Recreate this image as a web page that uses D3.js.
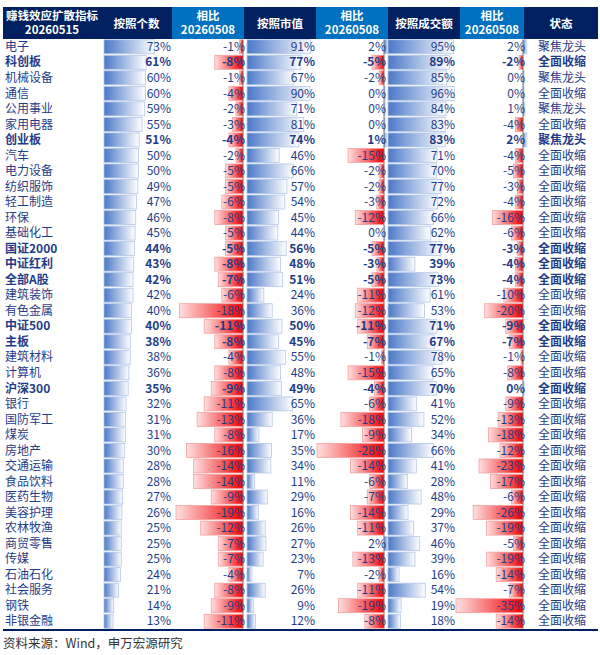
<!DOCTYPE html><html><head><meta charset="utf-8"><script src="https://cdn.jsdelivr.net/npm/d3@7"></script>
<style>body{margin:0;background:#fff}</style></head><body><svg id="c" width="600" height="655"></svg>
<script>
const names=["电子","科创板","机械设备","通信","公用事业","家用电器","创业板","汽车","电力设备","纺织服饰","轻工制造","环保","基础化工","国证2000","中证红利","全部A股","建筑装饰","有色金属","中证500","主板","建筑材料","计算机","沪深300","银行","国防军工","煤炭","房地产","交通运输","食品饮料","医药生物","美容护理","农林牧渔","商贸零售","传媒","石油石化","社会服务","钢铁","非银金融"];
const boldRows=["科创板","创业板","国证2000","中证红利","全部A股","中证500","主板","沪深300"];
const countPct=[73,61,60,60,59,55,51,50,50,49,47,46,45,44,43,42,42,40,40,38,38,36,35,32,31,31,30,28,28,27,26,25,25,25,24,21,14,13];
const countChg=[-1,-8,-1,-4,-2,-3,-4,-2,-5,-5,-6,-8,-5,-5,-8,-7,-6,-18,-11,-8,-4,-8,-9,-11,-13,-8,-16,-14,-14,-9,-19,-12,-7,-7,-4,-8,-9,-11];
const capPct=[91,77,67,90,71,81,74,46,66,57,54,45,44,56,48,51,24,36,50,45,55,48,49,65,36,17,35,34,11,29,16,26,27,23,7,26,9,12];
const capChg=[2,-5,-2,0,0,0,1,-15,-2,-2,-3,-12,0,-5,-3,-5,-11,-12,-11,-7,-1,-15,-4,-6,-18,-9,-28,-14,-6,-7,-14,-11,2,-13,-2,-11,-19,-8];
const volPct=[95,89,85,96,84,83,83,71,70,77,72,66,62,77,39,73,61,53,71,67,78,65,70,41,52,34,66,41,28,48,29,37,46,39,16,54,19,18];
const volChg=[2,-2,0,0,1,-4,2,-4,-5,-3,-4,-16,-6,-3,-4,-4,-10,-20,-9,-7,-1,-8,0,-9,-13,-18,-12,-23,-17,-6,-26,-19,-5,-19,-14,-7,-35,-14];
const status=["聚焦龙头","全面收缩","聚焦龙头","全面收缩","聚焦龙头","全面收缩","聚焦龙头","全面收缩","全面收缩","全面收缩","全面收缩","全面收缩","全面收缩","全面收缩","全面收缩","全面收缩","全面收缩","全面收缩","全面收缩","全面收缩","全面收缩","全面收缩","全面收缩","全面收缩","全面收缩","全面收缩","全面收缩","全面收缩","全面收缩","全面收缩","全面收缩","全面收缩","全面收缩","全面收缩","全面收缩","全面收缩","全面收缩","全面收缩"];
const headers=[["赚钱效应扩散指标","20260515"],["按照个数"],["相比","20260508"],["按照市值"],["相比","20260508"],["按照成交额"],["相比","20260508"],["状态"]];

const svg=d3.select("#c");
const F="'Noto Sans CJK SC','Noto Sans',sans-serif";
const navy="#002060",blue="#0070c0",tc="#1f3c88";
const FS=12;
const cols=[3,101,172,244,316,388,460,524,598];
const y=d3.scaleBand().domain(d3.range(names.length)).range([39,629]).paddingInner(0.1).paddingOuter(0.05);
const defs=svg.append("defs");
const gb=defs.append("linearGradient").attr("id","gb");
gb.append("stop").attr("offset","0").attr("stop-color","#4a78c8");gb.append("stop").attr("offset","1").attr("stop-color","#fff");
const gr=defs.append("linearGradient").attr("id","gr");
gr.append("stop").attr("offset","0").attr("stop-color","#ffe0e0");gr.append("stop").attr("offset","1").attr("stop-color","#f00000");
headers.forEach((h,i)=>{
  svg.append("rect").attr("x",cols[i]).attr("y",7).attr("width",cols[i+1]-cols[i]).attr("height",32).attr("fill",(i%2==0&&i>0)?blue:navy);
  h.forEach((t,j)=>svg.append("text").attr("x",(cols[i]+cols[i+1])/2).attr("y",h.length==1?27.5:19.5+j*14.5).attr("text-anchor","middle")
    .attr("fill","#fff").attr("font-family",F).attr("font-size",11.5).attr("font-weight","bold").text(t));
});
const bh=y.bandwidth();
function pctCol(vals,x0,x1){
  const s=d3.scaleLinear().domain([0,100]).range([0,x1-x0-2]);
  const g=svg.append("g");
  g.selectAll("rect").data(vals).join("rect").attr("x",x0+3).attr("y",(d,i)=>y(i)).attr("width",d=>s(d)).attr("height",bh)
   .attr("fill","url(#gb)").attr("stroke","#b4c7e7").attr("stroke-width",0.8);
  g.selectAll("text").data(vals).join("text").attr("x",x1-1).attr("y",(d,i)=>y(i)+bh/2+4.2).attr("text-anchor","end")
   .attr("font-family",F).attr("font-size",FS).attr("fill",tc).attr("font-weight",(d,i)=>boldRows.includes(names[i])?"bold":"normal").text(d=>d+"%");
}
function chgCol(vals,x0,x1){
  const base=x1-1;
  const s=d3.scaleLinear().domain([0,d3.max(vals,v=>Math.abs(v))]).range([0,67]);
  const g=svg.append("g");
  g.selectAll("rect").data(vals).join("rect").attr("x",d=>d<0?base-s(-d):base).attr("y",(d,i)=>y(i)).attr("width",d=>Math.max(s(Math.abs(d)),d==0?1:0)).attr("height",bh)
   .attr("fill",d=>d<0?"url(#gr)":"url(#gb)").attr("stroke",d=>d<0?"#f4a0a0":"#b4c7e7").attr("stroke-width",0.8);
  g.append("line").attr("x1",base).attr("x2",base).attr("y1",y(0)).attr("y2",y(names.length-1)+bh).attr("stroke","#444").attr("stroke-width",0.6);
  g.selectAll("text").data(vals).join("text").attr("x",base+2).attr("y",(d,i)=>y(i)+bh/2+4.2).attr("text-anchor","end")
   .attr("font-family",F).attr("font-size",FS).attr("fill",tc).attr("font-weight",(d,i)=>boldRows.includes(names[i])?"bold":"normal").text(d=>d+"%");
}
svg.append("g").selectAll("text").data(names).join("text").attr("x",5).attr("y",(d,i)=>y(i)+bh/2+4.2)
 .attr("font-family",F).attr("font-size",FS).attr("fill",tc).attr("font-weight",d=>boldRows.includes(d)?"bold":"normal").text(d=>d);
pctCol(countPct,101,172);chgCol(countChg,172,244);
pctCol(capPct,244,316);chgCol(capChg,316,385);
pctCol(volPct,385,456);chgCol(volChg,456,524);
svg.append("g").selectAll("text").data(status).join("text").attr("x",538).attr("y",(d,i)=>y(i)+bh/2+4.2)
 .attr("font-family",F).attr("font-size",FS).attr("fill",tc).attr("font-weight",(d,i)=>boldRows.includes(names[i])?"bold":"normal").text(d=>d);
svg.append("line").attr("x1",3).attr("x2",598).attr("y1",630).attr("y2",630).attr("stroke",navy).attr("stroke-width",2);
svg.append("text").attr("x",3).attr("y",648).attr("font-family",F).attr("font-size",12.5).attr("fill","#333").text("资料来源：Wind，申万宏源研究");
</script></body></html>
